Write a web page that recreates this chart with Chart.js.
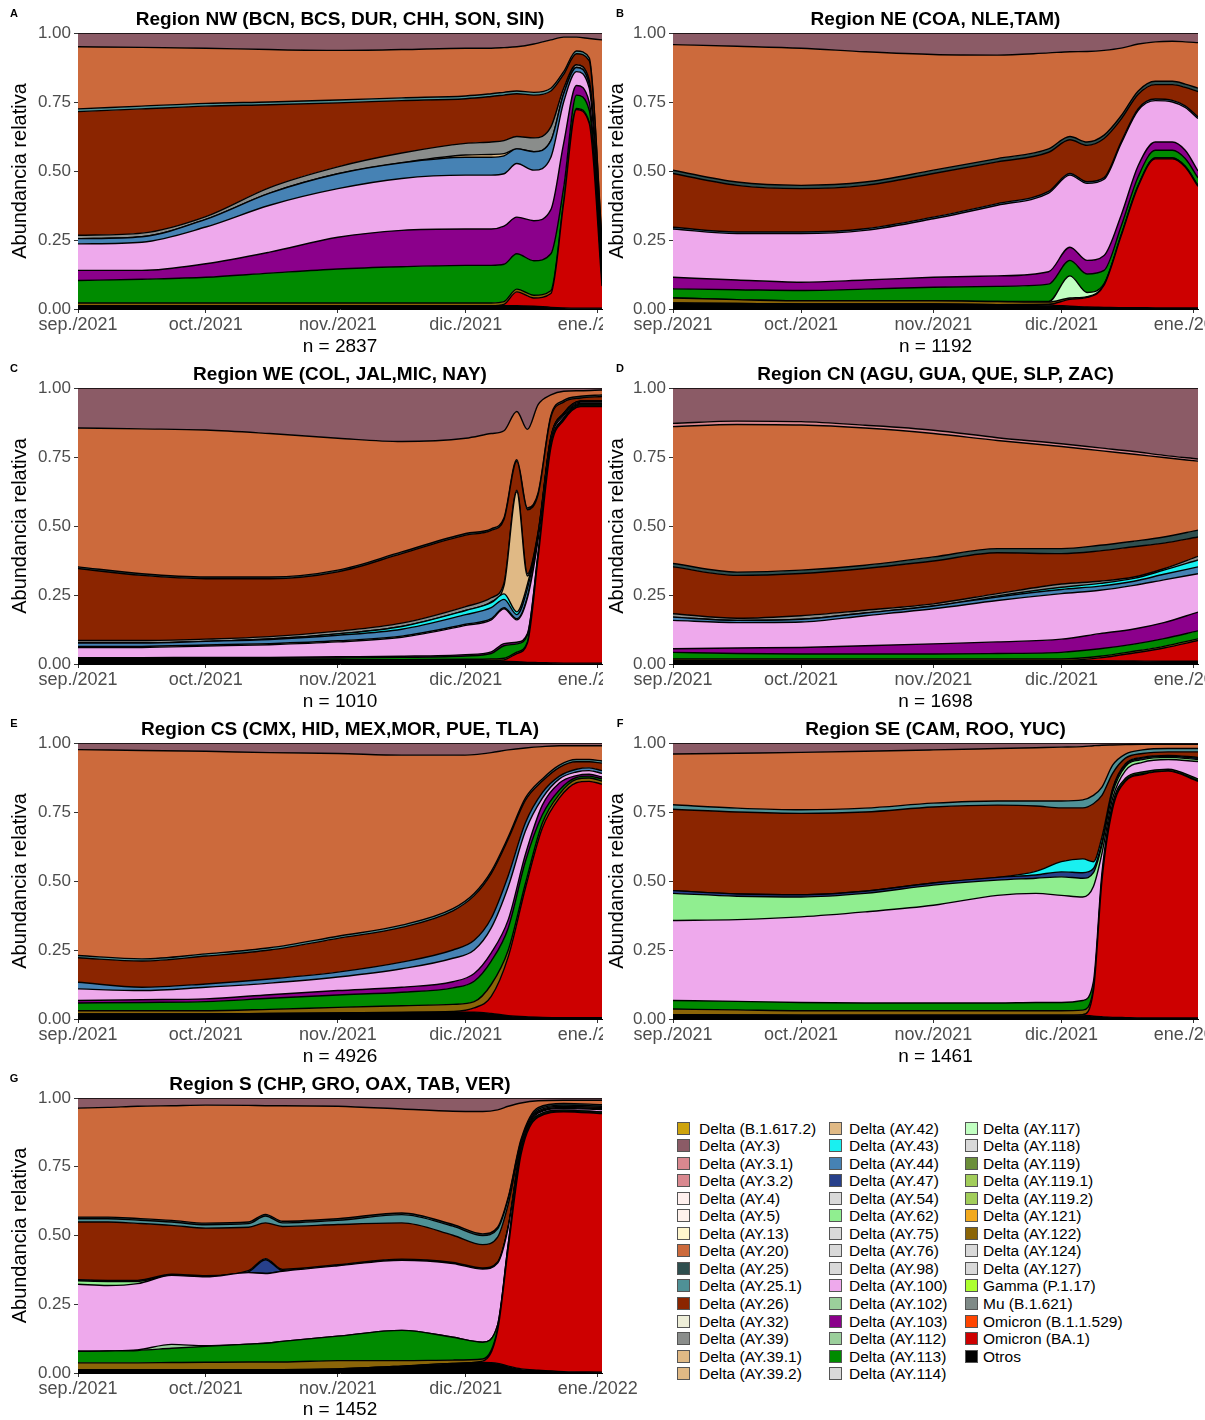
<!DOCTYPE html>
<html>
<head>
<meta charset="utf-8">
<script src="https://cdn.jsdelivr.net/npm/chart.js@4.4.1/dist/chart.umd.min.js"></script>
<style>
  body { margin: 0; background: #fff; width: 1205px; height: 1420px; position: relative; overflow: hidden;
         font-family: "Liberation Sans", Arial, sans-serif; }
  .panel { position: absolute; overflow: hidden; height: 360px; }
  .panel canvas { position: absolute; left: 0; top: 0; }
  .lg { position: absolute; font-size: 15.5px; line-height: 17px; color: #000; white-space: nowrap; }
  .sw { position: absolute; width: 11px; height: 11px; border: 1px solid #555; }
</style>
</head>
<body>
<div class="panel" id="pA" style="left:0;top:0;width:603px"><canvas id="cA" width="660" height="360"></canvas></div>
<div class="panel" id="pB" style="left:603px;top:0;width:602px"><canvas id="cB" width="660" height="360"></canvas></div>
<div class="panel" id="pC" style="left:0;top:355px;width:603px"><canvas id="cC" width="660" height="360"></canvas></div>
<div class="panel" id="pD" style="left:603px;top:355px;width:602px"><canvas id="cD" width="660" height="360"></canvas></div>
<div class="panel" id="pE" style="left:0;top:710px;width:603px"><canvas id="cE" width="660" height="360"></canvas></div>
<div class="panel" id="pF" style="left:603px;top:710px;width:602px"><canvas id="cF" width="660" height="360"></canvas></div>
<div class="panel" id="pG" style="left:0;top:1065px;width:650px"><canvas id="cG" width="660" height="360"></canvas></div>
<div id="legend"></div>
<script>
// x axis is days since 1 Sep 2021
const tickDays = [0, 30, 61, 91, 122];
const tickLabels = ['sep./2021', 'oct./2021', 'nov./2021', 'dic./2021', 'ene./2022'];
const yTicks = [0, 0.25, 0.5, 0.75, 1];

// legend order = stacking order from top to bottom
const variantNames = [
  'Delta (B.1.617.2)', 'Delta (AY.3)', 'Delta (AY.3.1)', 'Delta (AY.3.2)', 'Delta (AY.4)',
  'Delta (AY.5)', 'Delta (AY.13)', 'Delta (AY.20)', 'Delta (AY.25)', 'Delta (AY.25.1)',
  'Delta (AY.26)', 'Delta (AY.32)', 'Delta (AY.39)', 'Delta (AY.39.1)', 'Delta (AY.39.2)',
  'Delta (AY.42)', 'Delta (AY.43)', 'Delta (AY.44)', 'Delta (AY.47)', 'Delta (AY.54)',
  'Delta (AY.62)', 'Delta (AY.75)', 'Delta (AY.76)', 'Delta (AY.98)', 'Delta (AY.100)',
  'Delta (AY.102)', 'Delta (AY.103)', 'Delta (AY.112)', 'Delta (AY.113)', 'Delta (AY.114)',
  'Delta (AY.117)', 'Delta (AY.118)', 'Delta (AY.119)', 'Delta (AY.119.1)', 'Delta (AY.119.2)',
  'Delta (AY.121)', 'Delta (AY.122)', 'Delta (AY.124)', 'Delta (AY.127)', 'Gamma (P.1.17)',
  'Mu (B.1.621)', 'Omicron (B.1.1.529)', 'Omicron (BA.1)', 'Otros'
];
const variantColors = [
  '#CDA30C', '#8B5B66', '#D9888F', '#D9888F', '#FFF0EE',
  '#FFF2EC', '#FFF6CE', '#CC6A3C', '#2F4F4F', '#4F9196',
  '#8B2500', '#EEEED8', '#8A8D8B', '#E0B985', '#E0B985',
  '#E0B985', '#19F0F0', '#4682B4', '#27408B', '#D9D9D9',
  '#90EE90', '#D9D9D9', '#D9D9D9', '#D9D9D9', '#EEA9EC',
  '#9BCF9B', '#8B008B', '#9BCF9B', '#008B00', '#D9D9D9',
  '#C1FFC1', '#D9D9D9', '#6B8E3A', '#A2CD5A', '#A2CD5A',
  '#F2A91E', '#8B6508', '#D9D9D9', '#D9D9D9', '#ADFF2F',
  '#7F8A87', '#FF4500', '#CD0000', '#000000'
];

// ---- Region NW ----
const nwDays = [0, 15, 30, 45, 61, 76, 91, 97, 100, 103, 107, 111, 114, 117, 120, 123];
const nwSeries = [
  ['Otros',           [.012,.012,.012,.012,.012,.012,.012,.012,.012,.012,.010,.006,.004,.003,.003,.003]],
  ['Omicron (BA.1)',  [0,0,0,0,0,0,0,0,.005,.050,.030,.050,.380,.720,.670,.080]],
  ['Delta (AY.122)',  [.010,.010,.010,.010,.010,.010,.010,.010,.010,.010,.010,.010,.006,.004,.004,.004]],
  ['Delta (AY.113)',  [.081,.086,.093,.108,.123,.131,.136,.136,.135,.128,.125,.134,.050,.048,.043,.023]],
  ['Delta (AY.103)',  [.037,.032,.049,.076,.115,.132,.132,.132,.138,.133,.145,.160,.160,.035,.030,.020]],
  ['Delta (AY.100)',  [.096,.102,.133,.170,.176,.188,.195,.195,.190,.194,.183,.190,.150,.050,.050,.030]],
  ['Delta (AY.44)',   [.019,.020,.028,.044,.054,.057,.065,.065,.065,.053,.067,.060,.030,.015,.015,.015]],
  ['Delta (AY.42)',   [0,0,0,0,0,0,.008,.010,.008,0,0,0,0,0,0,0]],
  ['Delta (AY.39)',   [.012,.013,.010,.020,.025,.035,.042,.045,.047,.045,.050,.050,.020,.010,.015,.015]],
  ['Delta (AY.26)',   [.448,.450,.400,.300,.232,.190,.162,.165,.165,.155,.155,.130,.050,.040,.070,.050]],
  ['Delta (AY.25.1)', [.010,.010,.010,.010,.010,.010,.010,.010,.010,.010,.010,.010,.010,.010,.010,.010]],
  ['Delta (AY.20)',   [.225,.213,.200,.190,.180,.175,.173,.165,.162,.160,.175,.175,.125,.050,.070,.725]],
  ['Delta (AY.3)',    [.050,.052,.055,.060,.063,.060,.055,.055,.053,.050,.040,.025,.015,.015,.020,.025]]
];

// ---- Region NE ----
const neDays = [0, 15, 30, 45, 61, 76, 88, 93, 97, 101, 105, 109, 113, 117, 120, 123];
const neSeries = [
  ['Otros',           [.022,.020,.018,.018,.018,.016,.014,.010,.007,.006,.005,.005,.004,.004,.004,.004]],
  ['Omicron (BA.1)',  [0,0,0,0,0,0,.003,.025,.035,.080,.260,.440,.540,.540,.510,.440]],
  ['Delta (AY.122)',  [.018,.014,.012,.012,.012,.011,.008,.005,.003,.003,.003,.003,.003,.003,.003,.003]],
  ['Delta (AY.117)',  [0,0,0,0,0,0,.002,.080,.015,.003,0,0,0,0,0,0]],
  ['Delta (AY.113)',  [.033,.036,.037,.042,.049,.055,.063,.056,.067,.048,.032,.032,.028,.028,.028,.028]],
  ['Delta (AY.103)',  [.042,.035,.030,.033,.036,.038,.045,.048,.049,.054,.040,.040,.030,.030,.030,.025]],
  ['Delta (AY.100)',  [.175,.168,.176,.180,.212,.256,.285,.261,.279,.276,.260,.200,.150,.145,.155,.190]],
  ['Delta (AY.44)',   [.006,.006,.006,.006,.006,.006,.006,.006,.006,.006,.006,.006,.006,.006,.006,.006]],
  ['Delta (AY.26)',   [.195,.169,.157,.157,.158,.151,.142,.122,.132,.142,.082,.052,.052,.057,.067,.092]],
  ['Delta (AY.25)',   [.012,.012,.012,.012,.012,.012,.012,.012,.012,.012,.012,.012,.012,.012,.012,.012]],
  ['Delta (AY.20)',   [.455,.492,.497,.472,.419,.375,.348,.307,.328,.307,.245,.170,.143,.145,.153,.165]],
  ['Delta (AY.3)',    [.042,.048,.055,.068,.078,.080,.072,.068,.067,.063,.055,.040,.032,.030,.032,.035]]
];

// ---- Region WE ----
const weDays = [0, 15, 30, 45, 61, 76, 91, 97, 100, 103, 105.5, 108, 111, 114, 118, 123];
const weSeries = [
  ['Otros',           [.012,.012,.012,.012,.012,.012,.012,.012,.010,.008,.006,.005,.004,.003,.003,.003]],
  ['Omicron (BA.1)',  [0,0,0,0,0,0,0,0,.005,.030,.070,.380,.780,.880,.930,.930]],
  ['Delta (AY.122)',  [.004,.004,.004,.004,.004,.004,.005,.006,.006,.005,.004,.003,.002,.002,.002,.002]],
  ['Delta (AY.113)',  [.004,.004,.005,.005,.006,.008,.012,.020,.045,.030,.025,.010,.006,.005,.004,.004]],
  ['Delta (AY.103)',  [.003,.003,.003,.003,.004,.004,.005,.006,.008,.006,.005,.004,.003,.002,.002,.002]],
  ['Delta (AY.100)',  [.037,.037,.041,.046,.054,.069,.106,.116,.126,.081,.130,.048,.015,.008,.004,.004]],
  ['Delta (AY.98)',   [.004,.004,.004,.004,.004,.004,.004,.004,.004,.004,.004,.004,.004,.004,.004,.004]],
  ['Delta (AY.44)',   [.012,.012,.013,.015,.020,.025,.035,.040,.030,.015,.030,.010,.004,.003,.002,.002]],
  ['Delta (AY.43)',   [0,0,0,.002,.005,.010,.015,.018,.020,.010,.015,.005,.002,.001,.001,.001]],
  ['Delta (AY.42)',   [0,0,0,0,0,0,0,.003,.030,.435,.030,.005,0,0,0,0]],
  ['Delta (AY.39)',   [.009,.009,.008,.008,.010,.012,.014,.015,.010,.006,.008,.004,.002,.001,.001,.001]],
  ['Delta (AY.26)',   [.261,.236,.219,.210,.215,.252,.259,.244,.230,.104,.232,.136,.072,.040,.011,.016]],
  ['Delta (AY.25)',   [.006,.006,.006,.006,.006,.006,.006,.006,.006,.006,.006,.006,.006,.006,.006,.006]],
  ['Delta (AY.20)',   [.503,.525,.533,.520,.478,.400,.345,.345,.315,.175,.285,.320,.075,.033,.020,.018]],
  ['Delta (AY.3)',    [.145,.148,.152,.165,.182,.194,.182,.165,.155,.085,.150,.060,.025,.012,.010,.007]]
];

// ---- Region CN ----
const cnDays = [0, 15, 30, 45, 61, 76, 91, 100, 108, 115, 123];
const cnSeries = [
  ['Otros',           [.012,.012,.012,.012,.012,.012,.012,.012,.011,.010,.010]],
  ['Omicron (BA.1)',  [0,0,0,0,0,0,0,.010,.029,.048,.075]],
  ['Delta (AY.122)',  [.006,.006,.006,.006,.006,.006,.006,.006,.006,.006,.006]],
  ['Delta (AY.113)',  [.024,.020,.018,.018,.018,.020,.024,.027,.026,.028,.029]],
  ['Delta (AY.103)',  [.013,.020,.024,.030,.037,.042,.048,.055,.055,.058,.068]],
  ['Delta (AY.100)',  [.103,.092,.092,.109,.127,.150,.165,.157,.158,.155,.139]],
  ['Delta (AY.44)',   [.012,.008,.010,.010,.010,.013,.015,.015,.015,.020,.025]],
  ['Delta (AY.43)',   [0,0,0,0,0,.004,.008,.010,.010,.015,.025]],
  ['Delta (AY.39)',   [.012,.008,.013,.010,.008,.008,.012,.008,.005,.005,.013]],
  ['Delta (AY.26)',   [.170,.155,.153,.151,.155,.148,.110,.110,.110,.093,.070]],
  ['Delta (AY.25)',   [.012,.012,.012,.012,.015,.015,.018,.020,.020,.022,.025]],
  ['Delta (AY.20)',   [.496,.535,.526,.497,.447,.392,.370,.343,.315,.288,.250]],
  ['Delta (AY.3.1)',  [.012,.012,.012,.010,.012,.010,.010,.010,.010,.008,.008]],
  ['Delta (AY.3)',    [.128,.120,.122,.135,.153,.180,.202,.217,.230,.244,.257]]
];

// ---- Region CS ----
const csDays = [0, 15, 30, 45, 61, 76, 88, 93, 97, 101, 105, 109, 113, 117, 120, 123];
const csSeries = [
  ['Otros',           [.018,.018,.018,.020,.022,.024,.025,.025,.020,.012,.008,.006,.005,.005,.005,.005]],
  ['Omicron (BA.1)',  [0,0,0,0,0,0,.002,.015,.062,.214,.465,.686,.796,.851,.856,.846]],
  ['Delta (AY.122)',  [.012,.012,.012,.015,.020,.024,.026,.023,.043,.024,.017,.018,.014,.012,.012,.011]],
  ['Delta (AY.113)',  [.028,.030,.033,.040,.045,.049,.060,.074,.085,.080,.080,.030,.015,.007,.007,.008]],
  ['Delta (AY.103)',  [.009,.010,.010,.013,.016,.018,.022,.028,.030,.030,.025,.035,.025,.007,.007,.007]],
  ['Delta (AY.100)',  [.042,.033,.042,.042,.049,.067,.085,.085,.090,.120,.085,.025,.015,.013,.013,.013]],
  ['Delta (AY.44)',   [.024,.012,.012,.015,.018,.024,.030,.035,.035,.040,.030,.020,.010,.010,.010,.010]],
  ['Delta (AY.26)',   [.089,.095,.101,.105,.122,.126,.142,.162,.162,.132,.082,.042,.032,.027,.022,.027]],
  ['Delta (AY.25.1)', [.008,.008,.008,.008,.008,.008,.008,.008,.008,.008,.008,.008,.008,.008,.008,.008]],
  ['Delta (AY.20)',   [.746,.755,.734,.707,.662,.616,.556,.503,.430,.315,.182,.117,.070,.050,.050,.055]],
  ['Delta (AY.3)',    [.024,.027,.030,.035,.038,.044,.044,.042,.035,.025,.018,.013,.010,.010,.010,.010]]
];

// ---- Region SE ----
const seDays = [0, 15, 30, 45, 61, 76, 85, 91, 96, 98.5, 100.5, 103, 106, 110, 116, 123];
const seSeries = [
  ['Otros',           [.016,.015,.014,.014,.014,.014,.014,.014,.014,.010,.008,.006,.005,.004,.004,.004]],
  ['Omicron (BA.1)',  [0,0,0,0,0,0,0,0,.002,.092,.494,.755,.856,.882,.894,.857]],
  ['Delta (AY.122)',  [.020,.018,.016,.016,.016,.016,.016,.016,.016,.008,.008,.005,.004,.003,.002,.003]],
  ['Delta (AY.113)',  [.031,.031,.030,.028,.028,.028,.030,.030,.035,.025,.020,.014,.007,.006,.005,.006]],
  ['Delta (AY.100)',  [.290,.296,.310,.330,.354,.390,.395,.388,.375,.345,.070,.020,.028,.035,.035,.063]],
  ['Delta (AY.62)',   [.098,.085,.072,.067,.073,.055,.055,.067,.068,.050,.030,.020,.015,.010,.008,.007]],
  ['Delta (AY.47)',   [.010,.008,.008,.008,.008,.010,.012,.018,.020,.015,.010,.010,.005,.005,.004,.005]],
  ['Delta (AY.43)',   [0,0,0,0,0,0,.013,.037,.050,.025,.020,.005,.005,.003,.003,.003]],
  ['Delta (AY.26)',   [.295,.297,.295,.287,.275,.262,.237,.195,.185,.210,.150,.055,.020,.014,.013,.020]],
  ['Delta (AY.25.1)', [.016,.014,.013,.014,.014,.015,.018,.025,.029,.030,.030,.030,.015,.013,.012,.012]],
  ['Delta (AY.20)',   [.184,.199,.208,.206,.193,.190,.193,.195,.193,.180,.152,.073,.034,.020,.015,.015]],
  ['Delta (AY.3)',    [.040,.037,.034,.030,.025,.020,.017,.015,.013,.010,.008,.007,.006,.005,.005,.005]]
];

// ---- Region S ----
const sDays = [0, 7, 14, 22, 30, 40, 44, 48, 61, 76, 88, 95, 98.5, 101, 104, 108, 114, 123];
const sSeries = [
  ['Otros',           [.012,.012,.012,.012,.012,.012,.012,.012,.015,.025,.035,.038,.035,.025,.015,.010,.005,.003]],
  ['Omicron (BA.1)',  [0,0,0,0,0,0,0,0,0,0,0,.005,.120,.430,.780,.920,.945,.940]],
  ['Delta (AY.122)',  [.025,.025,.025,.026,.027,.028,.028,.028,.030,.020,.012,.008,.005,.004,.003,.002,.002,.002]],
  ['Delta (AY.113)',  [.042,.043,.045,.052,.058,.065,.068,.075,.089,.110,.083,.061,.015,.011,.010,.006,.004,.004]],
  ['Delta (AY.112)',  [0,0,.002,.014,.002,0,0,0,0,0,0,0,0,0,0,0,0,0]],
  ['Delta (AY.100)',  [.244,.238,.241,.251,.251,.260,.254,.255,.256,.255,.268,.266,.225,.060,.012,.007,.006,.009]],
  ['Delta (AY.62)',   [.012,.015,.008,0,0,0,0,0,0,0,0,0,0,0,0,0,0,0]],
  ['Delta (AY.47)',   [0,0,0,0,0,.003,.050,.003,0,0,0,0,0,0,0,0,0,0]],
  ['Delta (AY.44)',   [.004,.004,.004,.004,.004,.004,.004,.004,.004,.004,.004,.004,.004,.004,.004,.004,.004,.004]],
  ['Delta (AY.26)',   [.210,.212,.207,.178,.173,.158,.130,.156,.146,.132,.099,.085,.090,.080,.010,.004,.004,.004]],
  ['Delta (AY.25)',   [.006,.006,.006,.006,.006,.006,.006,.006,.006,.006,.006,.006,.006,.006,.006,.006,.006,.006]],
  ['Delta (AY.25.1)', [.012,.012,.012,.012,.012,.013,.025,.013,.015,.030,.033,.033,.030,.020,.010,.006,.004,.004]],
  ['Delta (AY.20)',   [.396,.399,.408,.417,.429,.424,.395,.420,.409,.378,.412,.445,.427,.330,.132,.025,.012,.016]],
  ['Delta (AY.3)',    [.037,.034,.030,.028,.026,.027,.028,.028,.030,.040,.048,.049,.043,.030,.018,.010,.008,.008]]
];

const FONT = '"Liberation Sans", Arial, sans-serif';
const CANVAS_H = 360;

const panels = [
  { id: 'cA', letter: 'A', title: 'Region NW (BCN, BCS, DUR, CHH, SON, SIN)', n: 2837, days: nwDays, series: nwSeries,
    plotLeft: 78, plotRight: 602, plotBottom: 309, yTitleX: 20, letterX: 14, nY: 347 },
  { id: 'cB', letter: 'B', title: 'Region NE (COA, NLE,TAM)', n: 1192, days: neDays, series: neSeries,
    plotLeft: 70, plotRight: 595, plotBottom: 309, yTitleX: 14, letterX: 17, nY: 347 },
  { id: 'cC', letter: 'C', title: 'Region WE (COL, JAL,MIC, NAY)', n: 1010, days: weDays, series: weSeries,
    plotLeft: 78, plotRight: 602, plotBottom: 309, yTitleX: 20, letterX: 14, nY: 347 },
  { id: 'cD', letter: 'D', title: 'Region CN (AGU, GUA, QUE, SLP, ZAC)', n: 1698, days: cnDays, series: cnSeries,
    plotLeft: 70, plotRight: 595, plotBottom: 309, yTitleX: 14, letterX: 17, nY: 347 },
  { id: 'cE', letter: 'E', title: 'Region CS (CMX, HID, MEX,MOR, PUE, TLA)', n: 4926, days: csDays, series: csSeries,
    plotLeft: 78, plotRight: 602, plotBottom: 309, yTitleX: 20, letterX: 14, nY: 347 },
  { id: 'cF', letter: 'F', title: 'Region SE (CAM, ROO, YUC)', n: 1461, days: seDays, series: seSeries,
    plotLeft: 70, plotRight: 595, plotBottom: 309, yTitleX: 14, letterX: 17, nY: 347 },
  { id: 'cG', letter: 'G', title: 'Region S (CHP, GRO, OAX, TAB, VER)', n: 1452, days: sDays, series: sSeries,
    plotLeft: 78, plotRight: 602, plotBottom: 308, yTitleX: 20, letterX: 14, nY: 345 }
];

const panelText = {
  id: 'panelText',
  afterDraw(chart, args, opts) {
    const { ctx, chartArea } = chart;
    ctx.save();
    ctx.fillStyle = '#000';
    ctx.textAlign = 'center';
    ctx.textBaseline = 'middle';
    ctx.font = 'bold 19px ' + FONT;
    ctx.fillText(opts.title, (chartArea.left + chartArea.right) / 2, 20);
    ctx.font = 'bold 11px ' + FONT;
    ctx.fillText(opts.letter, opts.letterX, 14);
    ctx.restore();
  }
};

function buildDatasets(p) {
  const byName = new Map(p.series);
  const out = [];
  for (let i = variantNames.length - 1; i >= 0; i--) {
    const name = variantNames[i];
    if (!byName.has(name)) continue;
    const vals = byName.get(name);
    out.push({
      label: name,
      data: p.days.map((d, k) => ({ x: d, y: vals[k] })),
      backgroundColor: variantColors[i],
      borderColor: '#000',
      borderWidth: 1.4,
      pointRadius: 0,
      cubicInterpolationMode: 'monotone',
      fill: out.length === 0 ? 'origin' : '-1'
    });
  }
  return out;
}

function drawPanel(p) {
  const canvas = document.getElementById(p.id);
  new Chart(canvas, {
    type: 'line',
    data: { datasets: buildDatasets(p) },
    plugins: [panelText],
    options: {
      responsive: false,
      animation: false,
      devicePixelRatio: 1,
      layout: { padding: { top: 33, left: 0, bottom: 0, right: canvas.width - p.plotRight } },
      plugins: {
        legend: { display: false },
        tooltip: { enabled: false },
        panelText: { title: p.title, letter: p.letter, letterX: p.letterX }
      },
      scales: {
        x: {
          type: 'linear', min: 0, max: 123,
          afterBuildTicks: s => { s.ticks = tickDays.map(v => ({ value: v })); },
          afterFit: s => { s.height = CANVAS_H - p.plotBottom; },
          ticks: {
            callback: v => tickLabels[tickDays.indexOf(v)],
            color: '#4d4d4d', font: { size: 18, family: FONT },
            padding: 1, maxRotation: 0, autoSkip: false
          },
          grid: { display: true, drawOnChartArea: false, drawTicks: true, tickLength: 4, color: '#333' },
          border: { display: true, color: '#000', width: 1 },
          title: { display: true, text: 'n = ' + p.n, color: '#000', font: { size: 19, family: FONT },
                   padding: { top: 0, bottom: CANVAS_H - p.nY - 11.4 } }
        },
        y: {
          stacked: true, min: 0, max: 1,
          afterBuildTicks: s => { s.ticks = yTicks.map(v => ({ value: v })); },
          afterFit: s => { s.width = p.plotLeft; },
          ticks: { callback: v => v.toFixed(2), color: '#4d4d4d', font: { size: 17, family: FONT }, padding: 3 },
          grid: { display: true, drawOnChartArea: false, drawTicks: true, tickLength: 4, color: '#333' },
          border: { display: true, color: '#000', width: 1 },
          title: { display: true, text: 'Abundancia relativa', color: '#000', font: { size: 20, family: FONT },
                   padding: { top: p.yTitleX - 12, bottom: 0 } }
        }
      }
    }
  });
}

panels.forEach(drawPanel);

// legend: 3 columns, filled top to bottom
const legendCols = [[677, 699], [829, 849], [965, 983]];
const legendRows = 15;
const legend = document.getElementById('legend');
variantNames.forEach((name, i) => {
  const col = Math.floor(i / legendRows), row = i % legendRows;
  const yc = 1128 + row * 17.55;
  const sw = document.createElement('div');
  sw.className = 'sw';
  sw.style.left = legendCols[col][0] + 'px';
  sw.style.top = (yc - 6.5) + 'px';
  sw.style.background = variantColors[i];
  legend.appendChild(sw);
  const tx = document.createElement('div');
  tx.className = 'lg';
  tx.style.left = legendCols[col][1] + 'px';
  tx.style.top = (yc - 8.5) + 'px';
  tx.textContent = name;
  legend.appendChild(tx);
});
</script>
</body>
</html>
